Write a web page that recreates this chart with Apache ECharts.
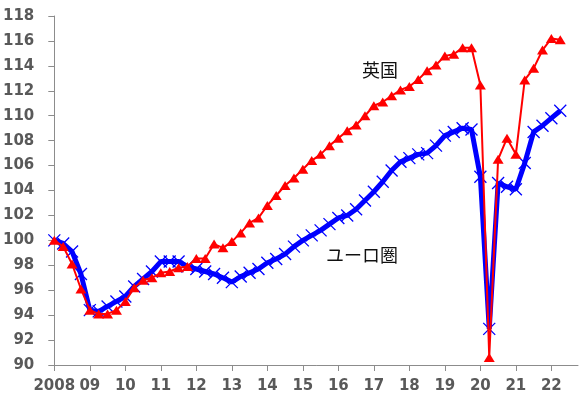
<!DOCTYPE html>
<html><head><meta charset="utf-8">
<script src="https://cdn.jsdelivr.net/npm/echarts@6/dist/echarts.min.js"></script>
<style>html,body{margin:0;padding:0;background:#fff}#c{width:581px;height:398px}</style>
</head><body><div id="c"></div>
<script>
var years = ['2008','09','10','11','12','13','14','15','16','17','18','19','20','21','22'];
var categories = [];
years.forEach(function(y){ for (var q=1;q<=4;q++) categories.push(y+'Q'+q); });
var yTicks = [90,92,94,96,98,100,102,104,106,108,110,112,114,116,118];
var euroArea = [100.0,99.75,99.1,97.3, 94.4,94.3,94.7,95.1, 95.5,96.3,96.9,97.5, 98.3,98.3,98.3,97.9,
  97.7,97.5,97.3,97.0, 96.65,97.1,97.4,97.7, 98.2,98.5,98.9,99.5, 100.0,100.4,100.8,101.3,
  101.8,102.0,102.5,103.2, 103.9,104.7,105.6,106.3, 106.6,106.9,107.0,107.6, 108.4,108.7,109.0,108.9,
  105.1,92.9,104.6,104.3, 104.1,106.2,108.7,109.2, 109.8,110.4];
var uk = [100.0,99.5,98.1,96.1, 94.4,94.1,94.1,94.4, 95.1,96.2,96.8,97.0, 97.4,97.5,97.8,97.9,
  98.55,98.55,99.7,99.4, 99.9,100.6,101.4,101.8, 102.8,103.6,104.4,105.0, 105.7,106.4,106.9,107.6,
  108.2,108.8,109.25,110.0, 110.8,111.1,111.6,112.06, 112.35,112.9,113.6,114.07, 114.8,114.93,115.46,115.46,
  112.46,90.6,106.5,108.2, 106.9,112.87,113.8,115.27, 116.2,116.1];
var seriesNames = ['ユーロ圏','英国'];

var chart = echarts.init(document.getElementById('c'), null, {renderer:'canvas'});
var axisColor = '#8c8c8c';
var labelStyle = {color:'#595959', fontFamily:'DejaVu Sans', fontWeight:'bold', fontSize:15};
chart.setOption({
  animation:false,
  grid:{left:53, right:3, top:16, bottom:33},
  xAxis:{
    type:'category', data:categories, boundaryGap:false,
    axisLine:{lineStyle:{color:axisColor, width:1}},
    axisTick:{show:true, interval:3, length:6, lineStyle:{color:axisColor}},
    axisLabel:Object.assign({interval:3, margin:14, formatter:function(v){ return v.slice(0, v.length-2); }}, labelStyle),
    splitLine:{show:false}
  },
  yAxis:{
    type:'value', min:yTicks[0], max:yTicks[yTicks.length-1], interval:2,
    axisLine:{show:true, lineStyle:{color:axisColor, width:1}},
    axisTick:{show:true, length:6, lineStyle:{color:axisColor}},
    axisLabel:Object.assign({margin:20}, labelStyle),
    splitLine:{show:false}
  },
  series:[
    {name:seriesNames[0], type:'line', data:euroArea,
     lineStyle:{color:'#0000ff', width:5},
     symbol:'path://M0 0L10 10M10 0L0 10', symbolSize:12, showAllSymbol:true,
     itemStyle:{color:'#0000ff', borderColor:'#0000ff', borderWidth:1.3}, z:2},
    {name:seriesNames[1], type:'line', data:uk,
     lineStyle:{color:'#ff0000', width:2},
     symbol:'triangle', symbolSize:[11,9], showAllSymbol:true,
     itemStyle:{color:'#ff0000'}, z:3}
  ],
  graphic:[
    {type:'text', left:362, top:61, style:{text:seriesNames[1], fill:'#111', font:'18px "Noto Sans CJK JP"'}},
    {type:'text', left:326, top:246, style:{text:seriesNames[0], fill:'#111', font:'18px "Noto Sans CJK JP"'}}
  ]
});
</script></body></html>
